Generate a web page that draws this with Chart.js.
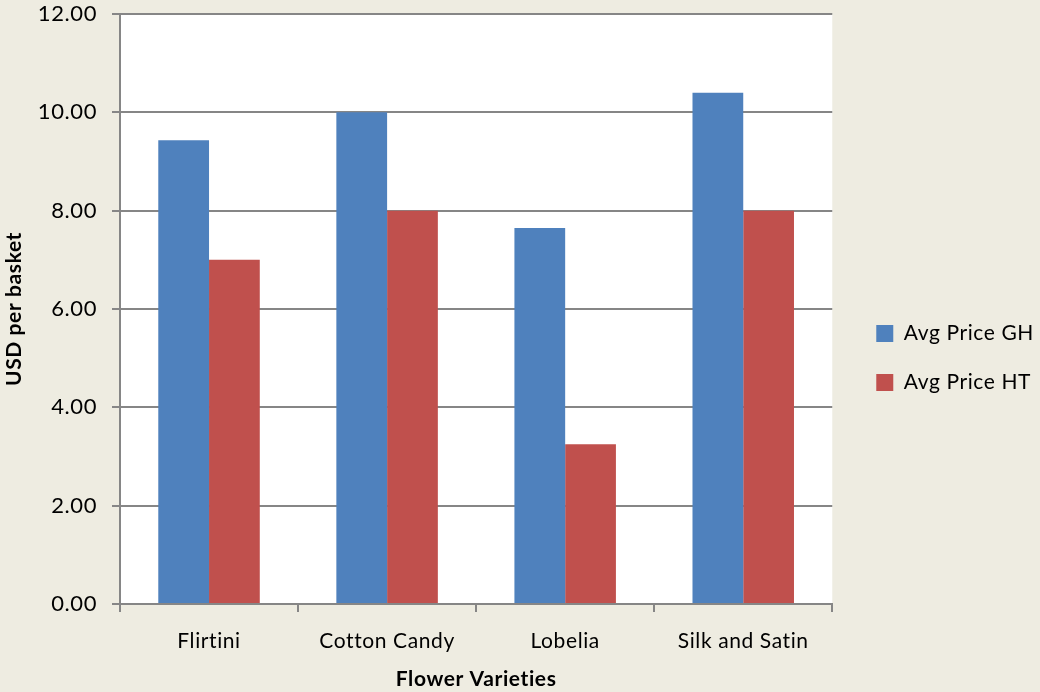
<!DOCTYPE html>
<html>
<head>
<meta charset="utf-8">
<script src="https://cdn.jsdelivr.net/npm/chart.js@4"></script>
<style>
  html, body { margin: 0; padding: 0; background: #EEECE1; overflow: hidden; }
  canvas { display: block; }
</style>
</head>
<body>
<canvas id="myChart" width="1040" height="692"></canvas>
<script>
// categories and series
const varieties = ["Flirtini", "Cotton Candy", "Lobelia", "Silk and Satin"];
const priceGH = [9.43, 10.0, 7.65, 10.4];
const priceHT = [7.0, 8.0, 3.25, 8.0];

const axisGray = "#868686";
const font = "Lato, 'Open Sans', sans-serif";

// white plot area on the tan background, a bit of letter spacing like the original,
// and the legend nudged away from the plot
const plotBg = {
  id: "plotBg",
  beforeUpdate(chart) { chart.ctx.letterSpacing = "0.6px"; },
  afterLayout(chart) {
    const lg = chart.legend;
    if (lg) {
      lg.left += 16;
      lg.right = chart.width;
      lg.top += 10;
    }
  },
  beforeDraw(chart) {
    const a = chart.chartArea;
    const ctx = chart.ctx;
    ctx.letterSpacing = "0.6px";
    ctx.save();
    ctx.fillStyle = "#ffffff";
    ctx.fillRect(a.left, a.top, a.right - a.left, a.bottom - a.top);
    ctx.restore();
  }
};

new Chart(document.getElementById("myChart"), {
  type: "bar",
  data: {
    labels: varieties,
    datasets: [
      { label: "Avg Price GH", data: priceGH, backgroundColor: "#4F81BD" },
      { label: "Avg Price HT", data: priceHT, backgroundColor: "#C0504D" }
    ]
  },
  options: {
    responsive: false,
    animation: false,
    devicePixelRatio: 1,
    layout: { padding: { top: 14, right: 12, left: 0, bottom: 0 } },
    datasets: { bar: { barPercentage: 1.0, categoryPercentage: 0.57 } },
    plugins: {
      tooltip: { enabled: false },
      legend: {
        position: "right",
        labels: {
          boxWidth: 17,
          boxHeight: 17,
          padding: 28,
          color: "#000",
          font: { family: font, size: 21 }
        }
      }
    },
    scales: {
      x: {
        afterFit(scale) { scale.height = 88; },
        grid: { drawOnChartArea: false, drawTicks: true, tickLength: 8, color: axisGray, lineWidth: 2 },
        border: { color: axisGray, width: 2 },
        ticks: { color: "#000", padding: 17, font: { family: font, size: 21 } },
        title: { display: true, text: "Flower Varieties", color: "#000", padding: { top: 0, bottom: 0 }, font: { family: font, size: 21, weight: "bold" } }
      },
      y: {
        afterFit(scale) { scale.width = 120; scale.paddingTop = 0; scale.paddingBottom = 0; },
        min: 0, max: 12,
        grid: { color: axisGray, lineWidth: 2, tickLength: 8 },
        border: { color: axisGray, width: 2 },
        ticks: { stepSize: 2, color: "#000", padding: 15, font: { family: font, size: 22 }, callback: v => v.toFixed(2) },
        title: { display: true, text: "USD per basket", color: "#000", padding: { top: 2, bottom: 2 }, font: { family: font, size: 21, weight: "bold" } }
      }
    }
  },
  plugins: [plotBg]
});
</script>
</body>
</html>
